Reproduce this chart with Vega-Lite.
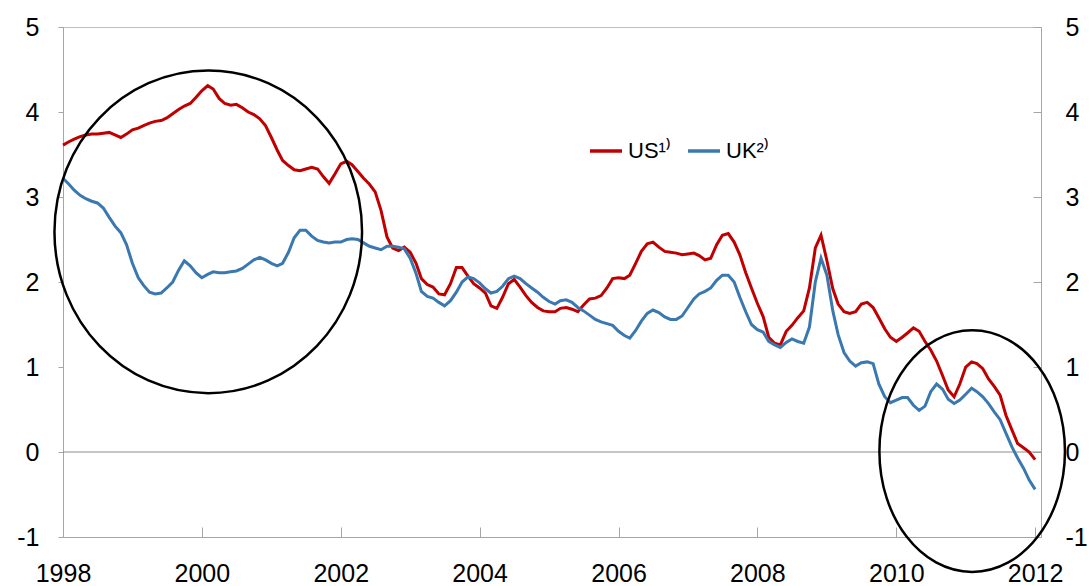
{
  "$schema": "https://vega.github.io/schema/vega-lite/v6.json",
  "width": 978,
  "height": 510,
  "autosize": {"type": "none"},
  "padding": {"left": 63, "top": 27, "right": 51, "bottom": 49},
  "background": "white",
  "datasets": {
    "rates": [
      {"date": "1998-01-01", "US": 3.61, "UK": 3.22},
      {"date": "1998-02-01", "US": 3.65, "UK": 3.15},
      {"date": "1998-03-01", "US": 3.68, "UK": 3.08},
      {"date": "1998-04-01", "US": 3.71, "UK": 3.02},
      {"date": "1998-05-01", "US": 3.73, "UK": 2.98},
      {"date": "1998-06-01", "US": 3.74, "UK": 2.95},
      {"date": "1998-07-01", "US": 3.74, "UK": 2.93},
      {"date": "1998-08-01", "US": 3.75, "UK": 2.87},
      {"date": "1998-09-01", "US": 3.76, "UK": 2.76},
      {"date": "1998-10-01", "US": 3.73, "UK": 2.66},
      {"date": "1998-11-01", "US": 3.70, "UK": 2.58},
      {"date": "1998-12-01", "US": 3.74, "UK": 2.44},
      {"date": "1999-01-01", "US": 3.79, "UK": 2.22},
      {"date": "1999-02-01", "US": 3.81, "UK": 2.05},
      {"date": "1999-03-01", "US": 3.84, "UK": 1.96},
      {"date": "1999-04-01", "US": 3.87, "UK": 1.88},
      {"date": "1999-05-01", "US": 3.89, "UK": 1.86},
      {"date": "1999-06-01", "US": 3.90, "UK": 1.87},
      {"date": "1999-07-01", "US": 3.93, "UK": 1.93},
      {"date": "1999-08-01", "US": 3.98, "UK": 2.00},
      {"date": "1999-09-01", "US": 4.03, "UK": 2.14},
      {"date": "1999-10-01", "US": 4.07, "UK": 2.25},
      {"date": "1999-11-01", "US": 4.10, "UK": 2.19},
      {"date": "1999-12-01", "US": 4.17, "UK": 2.11},
      {"date": "2000-01-01", "US": 4.25, "UK": 2.05},
      {"date": "2000-02-01", "US": 4.31, "UK": 2.09},
      {"date": "2000-03-01", "US": 4.27, "UK": 2.12},
      {"date": "2000-04-01", "US": 4.16, "UK": 2.11},
      {"date": "2000-05-01", "US": 4.10, "UK": 2.11},
      {"date": "2000-06-01", "US": 4.08, "UK": 2.12},
      {"date": "2000-07-01", "US": 4.09, "UK": 2.13},
      {"date": "2000-08-01", "US": 4.05, "UK": 2.16},
      {"date": "2000-09-01", "US": 4.00, "UK": 2.21},
      {"date": "2000-10-01", "US": 3.97, "UK": 2.26},
      {"date": "2000-11-01", "US": 3.92, "UK": 2.29},
      {"date": "2000-12-01", "US": 3.84, "UK": 2.26},
      {"date": "2001-01-01", "US": 3.70, "UK": 2.22},
      {"date": "2001-02-01", "US": 3.55, "UK": 2.19},
      {"date": "2001-03-01", "US": 3.43, "UK": 2.22},
      {"date": "2001-04-01", "US": 3.37, "UK": 2.35},
      {"date": "2001-05-01", "US": 3.32, "UK": 2.52},
      {"date": "2001-06-01", "US": 3.31, "UK": 2.61},
      {"date": "2001-07-01", "US": 3.33, "UK": 2.61},
      {"date": "2001-08-01", "US": 3.35, "UK": 2.54},
      {"date": "2001-09-01", "US": 3.33, "UK": 2.49},
      {"date": "2001-10-01", "US": 3.24, "UK": 2.47},
      {"date": "2001-11-01", "US": 3.16, "UK": 2.46},
      {"date": "2001-12-01", "US": 3.27, "UK": 2.47},
      {"date": "2002-01-01", "US": 3.39, "UK": 2.47},
      {"date": "2002-02-01", "US": 3.42, "UK": 2.50},
      {"date": "2002-03-01", "US": 3.38, "UK": 2.51},
      {"date": "2002-04-01", "US": 3.30, "UK": 2.50},
      {"date": "2002-05-01", "US": 3.22, "UK": 2.46},
      {"date": "2002-06-01", "US": 3.15, "UK": 2.42},
      {"date": "2002-07-01", "US": 3.06, "UK": 2.40},
      {"date": "2002-08-01", "US": 2.84, "UK": 2.38},
      {"date": "2002-09-01", "US": 2.53, "UK": 2.42},
      {"date": "2002-10-01", "US": 2.40, "UK": 2.42},
      {"date": "2002-11-01", "US": 2.37, "UK": 2.41},
      {"date": "2002-12-01", "US": 2.41, "UK": 2.39},
      {"date": "2003-01-01", "US": 2.35, "UK": 2.28},
      {"date": "2003-02-01", "US": 2.22, "UK": 2.10},
      {"date": "2003-03-01", "US": 2.04, "UK": 1.89},
      {"date": "2003-04-01", "US": 1.97, "UK": 1.83},
      {"date": "2003-05-01", "US": 1.94, "UK": 1.81},
      {"date": "2003-06-01", "US": 1.86, "UK": 1.76},
      {"date": "2003-07-01", "US": 1.85, "UK": 1.72},
      {"date": "2003-08-01", "US": 1.98, "UK": 1.78},
      {"date": "2003-09-01", "US": 2.17, "UK": 1.88},
      {"date": "2003-10-01", "US": 2.17, "UK": 2.00},
      {"date": "2003-11-01", "US": 2.07, "UK": 2.06},
      {"date": "2003-12-01", "US": 1.98, "UK": 2.04},
      {"date": "2004-01-01", "US": 1.93, "UK": 1.99},
      {"date": "2004-02-01", "US": 1.87, "UK": 1.92},
      {"date": "2004-03-01", "US": 1.72, "UK": 1.87},
      {"date": "2004-04-01", "US": 1.69, "UK": 1.89},
      {"date": "2004-05-01", "US": 1.82, "UK": 1.95},
      {"date": "2004-06-01", "US": 1.98, "UK": 2.04},
      {"date": "2004-07-01", "US": 2.03, "UK": 2.07},
      {"date": "2004-08-01", "US": 1.94, "UK": 2.04},
      {"date": "2004-09-01", "US": 1.84, "UK": 1.98},
      {"date": "2004-10-01", "US": 1.76, "UK": 1.93},
      {"date": "2004-11-01", "US": 1.70, "UK": 1.88},
      {"date": "2004-12-01", "US": 1.66, "UK": 1.82},
      {"date": "2005-01-01", "US": 1.65, "UK": 1.77},
      {"date": "2005-02-01", "US": 1.65, "UK": 1.74},
      {"date": "2005-03-01", "US": 1.69, "UK": 1.78},
      {"date": "2005-04-01", "US": 1.70, "UK": 1.79},
      {"date": "2005-05-01", "US": 1.68, "UK": 1.76},
      {"date": "2005-06-01", "US": 1.65, "UK": 1.70},
      {"date": "2005-07-01", "US": 1.73, "UK": 1.66},
      {"date": "2005-08-01", "US": 1.80, "UK": 1.61},
      {"date": "2005-09-01", "US": 1.81, "UK": 1.56},
      {"date": "2005-10-01", "US": 1.84, "UK": 1.53},
      {"date": "2005-11-01", "US": 1.93, "UK": 1.51},
      {"date": "2005-12-01", "US": 2.04, "UK": 1.49},
      {"date": "2006-01-01", "US": 2.05, "UK": 1.42},
      {"date": "2006-02-01", "US": 2.04, "UK": 1.37},
      {"date": "2006-03-01", "US": 2.08, "UK": 1.34},
      {"date": "2006-04-01", "US": 2.22, "UK": 1.43},
      {"date": "2006-05-01", "US": 2.36, "UK": 1.54},
      {"date": "2006-06-01", "US": 2.45, "UK": 1.63},
      {"date": "2006-07-01", "US": 2.47, "UK": 1.67},
      {"date": "2006-08-01", "US": 2.41, "UK": 1.64},
      {"date": "2006-09-01", "US": 2.36, "UK": 1.59},
      {"date": "2006-10-01", "US": 2.35, "UK": 1.56},
      {"date": "2006-11-01", "US": 2.34, "UK": 1.56},
      {"date": "2006-12-01", "US": 2.32, "UK": 1.60},
      {"date": "2007-01-01", "US": 2.33, "UK": 1.70},
      {"date": "2007-02-01", "US": 2.34, "UK": 1.80},
      {"date": "2007-03-01", "US": 2.31, "UK": 1.86},
      {"date": "2007-04-01", "US": 2.26, "UK": 1.89},
      {"date": "2007-05-01", "US": 2.28, "UK": 1.93},
      {"date": "2007-06-01", "US": 2.44, "UK": 2.02},
      {"date": "2007-07-01", "US": 2.55, "UK": 2.08},
      {"date": "2007-08-01", "US": 2.57, "UK": 2.08},
      {"date": "2007-09-01", "US": 2.47, "UK": 2.00},
      {"date": "2007-10-01", "US": 2.32, "UK": 1.82},
      {"date": "2007-11-01", "US": 2.11, "UK": 1.65},
      {"date": "2007-12-01", "US": 1.93, "UK": 1.50},
      {"date": "2008-01-01", "US": 1.75, "UK": 1.44},
      {"date": "2008-02-01", "US": 1.59, "UK": 1.41},
      {"date": "2008-03-01", "US": 1.35, "UK": 1.30},
      {"date": "2008-04-01", "US": 1.28, "UK": 1.26},
      {"date": "2008-05-01", "US": 1.26, "UK": 1.23},
      {"date": "2008-06-01", "US": 1.42, "UK": 1.29},
      {"date": "2008-07-01", "US": 1.49, "UK": 1.33},
      {"date": "2008-08-01", "US": 1.58, "UK": 1.30},
      {"date": "2008-09-01", "US": 1.66, "UK": 1.28},
      {"date": "2008-10-01", "US": 1.93, "UK": 1.47},
      {"date": "2008-11-01", "US": 2.40, "UK": 2.00},
      {"date": "2008-12-01", "US": 2.55, "UK": 2.28},
      {"date": "2009-01-01", "US": 2.25, "UK": 2.08},
      {"date": "2009-02-01", "US": 1.92, "UK": 1.66},
      {"date": "2009-03-01", "US": 1.74, "UK": 1.38},
      {"date": "2009-04-01", "US": 1.65, "UK": 1.17},
      {"date": "2009-05-01", "US": 1.63, "UK": 1.07},
      {"date": "2009-06-01", "US": 1.65, "UK": 1.01},
      {"date": "2009-07-01", "US": 1.74, "UK": 1.05},
      {"date": "2009-08-01", "US": 1.76, "UK": 1.06},
      {"date": "2009-09-01", "US": 1.70, "UK": 1.04},
      {"date": "2009-10-01", "US": 1.58, "UK": 0.80},
      {"date": "2009-11-01", "US": 1.45, "UK": 0.65},
      {"date": "2009-12-01", "US": 1.35, "UK": 0.58},
      {"date": "2010-01-01", "US": 1.30, "UK": 0.61},
      {"date": "2010-02-01", "US": 1.35, "UK": 0.64},
      {"date": "2010-03-01", "US": 1.40, "UK": 0.64},
      {"date": "2010-04-01", "US": 1.46, "UK": 0.55},
      {"date": "2010-05-01", "US": 1.42, "UK": 0.49},
      {"date": "2010-06-01", "US": 1.30, "UK": 0.54},
      {"date": "2010-07-01", "US": 1.20, "UK": 0.71},
      {"date": "2010-08-01", "US": 1.07, "UK": 0.80},
      {"date": "2010-09-01", "US": 0.90, "UK": 0.74},
      {"date": "2010-10-01", "US": 0.73, "UK": 0.62},
      {"date": "2010-11-01", "US": 0.65, "UK": 0.57},
      {"date": "2010-12-01", "US": 0.80, "UK": 0.61},
      {"date": "2011-01-01", "US": 1.00, "UK": 0.68},
      {"date": "2011-02-01", "US": 1.06, "UK": 0.75},
      {"date": "2011-03-01", "US": 1.04, "UK": 0.71},
      {"date": "2011-04-01", "US": 0.98, "UK": 0.65},
      {"date": "2011-05-01", "US": 0.86, "UK": 0.57},
      {"date": "2011-06-01", "US": 0.77, "UK": 0.47},
      {"date": "2011-07-01", "US": 0.67, "UK": 0.38},
      {"date": "2011-08-01", "US": 0.43, "UK": 0.22},
      {"date": "2011-09-01", "US": 0.26, "UK": 0.06},
      {"date": "2011-10-01", "US": 0.10, "UK": -0.07},
      {"date": "2011-11-01", "US": 0.05, "UK": -0.19},
      {"date": "2011-12-01", "US": 0.00, "UK": -0.33},
      {"date": "2012-01-01", "US": -0.09, "UK": -0.44}
    ]
  },
  "layer": [
    {
      "data": {"values": [{"level": 0}]},
      "mark": {"type": "rule", "color": "#8c8c8c", "strokeWidth": 1},
      "encoding": {
        "y": {
          "field": "level",
          "type": "quantitative",
          "scale": {"domain": [-1, 5], "nice": false, "zero": false},
          "axis": {
            "orient": "right",
            "title": null,
            "values": [-1, 0, 1, 2, 3, 4, 5],
            "labelExpr": "datum.value < 0 ? '-' + abs(datum.value) : '' + datum.value",
            "tickSize": -8,
            "labelPadding": 32,
            "labelAlign": "left",
            "labelFontSize": 25,
            "labelFont": "Liberation Sans",
            "labelColor": "#000000",
            "domainColor": "#a6a6a6",
            "tickColor": "#a6a6a6",
            "grid": false
          }
        }
      }
    },
    {
      "data": {"name": "rates"},
      "transform": [{"fold": ["US", "UK"], "as": ["series", "value"]}],
      "mark": {"type": "line", "strokeWidth": 3, "interpolate": "linear"},
      "encoding": {
        "x": {
          "field": "date",
          "type": "temporal",
          "scale": {
            "type": "utc",
            "domain": [
              {"year": 1998, "month": 1, "date": 1, "utc": true},
              {"year": 2012, "month": 2, "date": 1, "utc": true}
            ]
          },
          "axis": {
            "orient": "bottom",
            "title": null,
            "format": "%Y",
            "tickCount": {"interval": "year", "step": 2},
            "labelFontSize": 25,
            "labelFont": "Liberation Sans",
            "labelColor": "#000000",
            "tickSize": -10,
            "labelPadding": 34,
            "domainColor": "#a6a6a6",
            "tickColor": "#a6a6a6",
            "grid": false,
            "labelFlush": false,
            "labelOverlap": false
          }
        },
        "y": {
          "field": "value",
          "type": "quantitative",
          "scale": {"domain": [-1, 5], "nice": false, "zero": false},
          "axis": {
            "orient": "left",
            "title": null,
            "values": [-1, 0, 1, 2, 3, 4, 5],
            "labelExpr": "datum.value < 0 ? '-' + abs(datum.value) : '' + datum.value",
            "tickSize": 5,
            "labelPadding": 19,
            "labelFontSize": 25,
            "labelFont": "Liberation Sans",
            "labelColor": "#000000",
            "domainColor": "#a6a6a6",
            "tickColor": "#a6a6a6",
            "grid": false
          }
        },
        "color": {
          "field": "series",
          "type": "nominal",
          "scale": {"domain": ["US", "UK"], "range": ["#C00000", "#3A78B0"]},
          "legend": {
            "orient": "none",
            "legendX": 525,
            "legendY": 106,
            "direction": "horizontal",
            "title": null,
            "symbolType": "stroke",
            "symbolSize": 1024,
            "symbolStrokeWidth": 3.5,
            "labelFontSize": 22,
            "labelFont": "Liberation Sans",
            "labelColor": "#000000",
            "labelOffset": 4,
            "columnPadding": 10,
            "padding": 0,
            "labelExpr": "datum.label == 'US' ? 'US¹⁾' : 'UK²⁾'"
          }
        }
      }
    },
    {
      "data": {"values": [{"date": "2000-02-04", "value": 2.59}]},
      "mark": {
        "type": "point",
        "shape": "M 0.9535 0 C 0.9535 0.5523 0.5266 1 0 1 C -0.5266 1 -0.9535 0.5523 -0.9535 0 C -0.9535 -0.5523 -0.5266 -1 0 -1 C 0.5266 -1 0.9535 -0.5523 0.9535 0 Z",
        "size": 104071,
        "filled": false,
        "stroke": "#000000",
        "strokeWidth": 2.5,
        "opacity": 1
      },
      "encoding": {
        "x": {
          "field": "date",
          "type": "temporal",
          "scale": {
            "type": "utc",
            "domain": [
              {"year": 1998, "month": 1, "date": 1, "utc": true},
              {"year": 2012, "month": 2, "date": 1, "utc": true}
            ]
          }
        },
        "y": {
          "field": "value",
          "type": "quantitative",
          "scale": {"domain": [-1, 5], "nice": false, "zero": false},
          "axis": null
        }
      }
    },
    {
      "data": {"values": [{"date": "2011-02-04", "value": 0.01}]},
      "mark": {
        "type": "point",
        "shape": "M 0.768 0 C 0.768 0.5523 0.4243 1 0 1 C -0.4243 1 -0.768 0.5523 -0.768 0 C -0.768 -0.5523 -0.4243 -1 0 -1 C 0.4243 -1 0.768 -0.5523 0.768 0 Z",
        "size": 58371,
        "filled": false,
        "stroke": "#000000",
        "strokeWidth": 2.5,
        "opacity": 1
      },
      "encoding": {
        "x": {
          "field": "date",
          "type": "temporal",
          "scale": {
            "type": "utc",
            "domain": [
              {"year": 1998, "month": 1, "date": 1, "utc": true},
              {"year": 2012, "month": 2, "date": 1, "utc": true}
            ]
          }
        },
        "y": {
          "field": "value",
          "type": "quantitative",
          "scale": {"domain": [-1, 5], "nice": false, "zero": false},
          "axis": null
        }
      }
    }
  ],
  "resolve": {"scale": {"y": "independent"}},
  "config": {
    "font": "Liberation Sans",
    "view": {"stroke": "#bfbfbf", "strokeWidth": 1}
  }
}
